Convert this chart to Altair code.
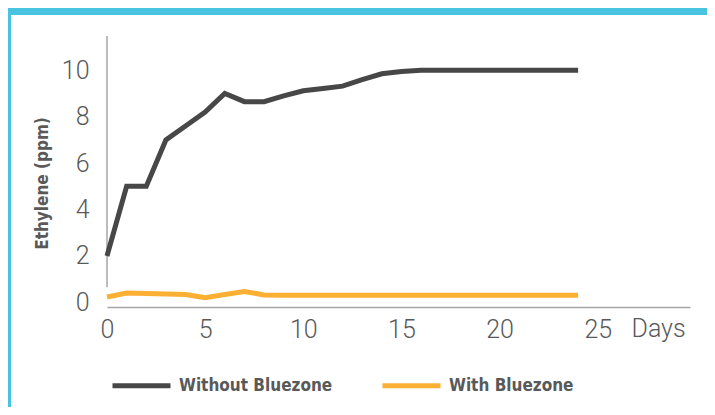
import altair as alt
import pandas as pd

days = list(range(0, 25))
without_bluezone = [2.0, 5.0, 5.0, 7.0, 7.6, 8.2, 9.0, 8.65, 8.65, 8.9, 9.12, 9.22, 9.32,
                    9.6, 9.85, 9.95, 10.0, 10.0, 10.0, 10.0, 10.0, 10.0, 10.0, 10.0, 10.0]
with_bluezone = [0.23, 0.4, 0.38, 0.36, 0.34, 0.2, 0.34, 0.47, 0.32, 0.31, 0.31, 0.31, 0.31,
                 0.31, 0.31, 0.31, 0.31, 0.31, 0.31, 0.31, 0.31, 0.31, 0.31, 0.31, 0.31]
series_names = ["Without Bluezone", "With Bluezone"]
series_colors = ["#474747", "#FBB034"]
x_ticks = [0, 5, 10, 15, 20, 25]
y_ticks = [0, 2, 4, 6, 8, 10]

df = pd.DataFrame({
    "day": days * 2,
    "value": without_bluezone + with_bluezone,
    "series": [series_names[0]] * len(days) + [series_names[1]] * len(days),
})

W, H = 583, 271
TICK_FONT = "Roboto"
BOLD_FONT = "DejaVu Sans Condensed, Liberation Sans Narrow, Roboto"
GRAY = "#595959"
CYAN = "#48C3E0"

xscale = alt.Scale(domain=[0, 29.7], nice=False, zero=False)
yscale = alt.Scale(domain=[-0.2, 11.48], nice=False, zero=False)

lines = alt.Chart(df).mark_line(strokeWidth=5, strokeJoin="miter").encode(
    x=alt.X("day:Q", scale=xscale,
            axis=alt.Axis(values=x_ticks, title=None, grid=False, ticks=False,
                          domain=True, domainColor="#A6A6A6", domainWidth=1.5,
                          labelFont=TICK_FONT, labelFontSize=25, labelFontWeight=300,
                          labelColor=GRAY, labelPadding=10, labelFlush=False)),
    y=alt.Y("value:Q", scale=yscale,
            axis=alt.Axis(values=y_ticks, title="Ethylene (ppm)", grid=False, ticks=False,
                          domain=False, labelFont=TICK_FONT, labelFontSize=25,
                          labelFontWeight=300, labelColor=GRAY, labelPadding=18,
                          titleFont=BOLD_FONT, titleFontSize=17, titleFontWeight="bold",
                          titleColor=GRAY, titleAngle=270, titleX=-65, titleY=147,
                          titleAlign="center", titleBaseline="middle")),
    color=alt.Color("series:N",
                    scale=alt.Scale(domain=series_names, range=series_colors),
                    sort=series_names,
                    legend=alt.Legend(title=None, orient="none", direction="horizontal",
                                      legendX=3, legendY=318, symbolType="stroke",
                                      symbolSize=3364, symbolStrokeWidth=5,
                                      labelFont=BOLD_FONT, labelFontSize=17,
                                      labelFontWeight="bold", labelColor=GRAY,
                                      labelLimit=400, labelOffset=6, columnPadding=39,
                                      padding=0)),
)

yaxis_line = alt.Chart().mark_rule(color="#A6A6A6", strokeWidth=1.5).encode(
    x=alt.datum(0, scale=xscale), y=alt.datum(0.65), y2=alt.datum(11.48)
)

days_label = alt.Chart().mark_text(
    text="Days", font=TICK_FONT, fontSize=25, fontWeight=300, color=GRAY,
    align="center", baseline="middle"
).encode(x=alt.datum(28.1), y=alt.value(293))

top_bar = alt.Chart().mark_rect(color=CYAN).encode(
    x=alt.value(-99), x2=alt.value(W + 17), y=alt.value(-28), y2=alt.value(-21)
)
left_bar = alt.Chart().mark_rect(color=CYAN).encode(
    x=alt.value(-99), x2=alt.value(-96), y=alt.value(-28), y2=alt.value(H + 100)
)

chart = alt.layer(top_bar, left_bar, yaxis_line, lines, days_label).properties(
    width=W, height=H,
    autosize=alt.AutoSizeParams(type="none"),
    padding={"left": 99, "top": 28, "right": 17, "bottom": 100},
    background="white",
).configure_view(stroke=None)

chart.save("out.html", embed_options={"renderer": "svg", "actions": False})
